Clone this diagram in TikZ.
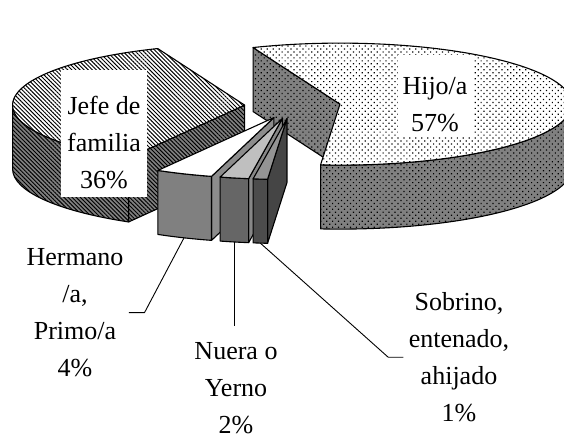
\documentclass[tikz,border=0pt]{standalone}
\usepackage{fontspec}
\setmainfont{Liberation Serif}
\usetikzlibrary{patterns.meta}
\definecolor{sidegray}{HTML}{808080}
\tikzset{
  hatch/.style={pattern={Lines[angle=-45,distance=2.9pt,line width=0.95pt]},pattern color=black},
  speckle/.style={pattern={Dots[angle=45,distance=4.2pt,radius=0.85pt]},pattern color=black},
  jefetop/.style={draw,preaction={fill=white},hatch},
  jefeside/.style={draw,preaction={fill=sidegray},hatch},
  hijotop/.style={draw,preaction={fill=white},speckle},
  hijoside/.style={draw,preaction={fill=sidegray},speckle},
  lbl/.style={align=center,inner sep=5pt},
  lblbox/.style={fill=white,inner sep=0pt},
  leader/.style={line width=0.9pt}
}
\begin{document}
\begin{tikzpicture}[x=1pt,y=1pt,line width=1.1pt,line join=round,font=\fontsize{26}{36.8}\selectfont]
\useasboundingbox (0,0) rectangle (564,441);
\clip (0,0) rectangle (564,441);
% Jefe de familia
\begin{scope}[shift={(292.5,335)},shift={(176:48 and 12.6)}]
\draw[jefeside] (0,0) -- (240:232 and 61) -- ++(0,-64) -- (0,-64) -- cycle;
\draw[jefeside] (180:232 and 61) arc[start angle=180,end angle=240,x radius=232,y radius=61]
  -- ++(0,-64) arc[start angle=240,end angle=180,x radius=232,y radius=61] -- cycle;
\draw[jefetop] (0,0) -- (112:232 and 61) arc[start angle=112,end angle=240,x radius=232,y radius=61] -- cycle;
\end{scope}
% Hijo/a
\begin{scope}[shift={(292.5,335)},shift={(368.6:48 and 12.6)}]
\draw[hijoside] (0,0) -- (112:232 and 61) -- ++(0,-64) -- (0,-64) -- cycle;
\draw[hijoside] (265.2:232 and 61) arc[start angle=265.2,end angle=360,x radius=232,y radius=61]
  -- ++(0,-64) arc[start angle=360,end angle=265.2,x radius=232,y radius=61] -- cycle;
\draw[hijotop] (0,0) -- (265.2:232 and 61) arc[start angle=265.2,end angle=472,x radius=232,y radius=61] -- cycle;
\end{scope}
% small slices
\foreach \s/\e/\n/\cf/\ct/\cc in {240/254.4/hermano/black!50/white/black!45,
  254.4/261.6/nuera/black!60/black!25/black!47,
  261.6/265.2/sobrino/black!70/black!42/black!73}{
\pgfmathsetmacro{\m}{(\s+\e)/2}
\begin{scope}[shift={(292.5,335)},shift={(\m:48 and 12.6)}]
\draw[fill=\cc] (0,0) -- (\e:232 and 61) -- ++(0,-64) -- (0,-64) -- cycle;
\draw[fill=\cf] (\s:232 and 61) arc[start angle=\s,end angle=\e,x radius=232,y radius=61]
  -- ++(0,-64) arc[start angle=\e,end angle=\s,x radius=232,y radius=61] -- cycle;
\draw[fill=\ct] (0,0) -- (\s:232 and 61) arc[start angle=\s,end angle=\e,x radius=232,y radius=61] -- cycle;
\path (\m:232 and 61) ++(0,-64) coordinate (\n-tip);
\end{scope}
}
% labels
\node[lblbox,minimum width=86pt,minimum height=127pt] (jefe-box) at (104,307.5) {};
\node[lbl] (jefe-lbl) at (104,298.3) {Jefe de\\familia\\36\%};
\node[lblbox,minimum width=75pt,minimum height=82pt] (hijo-box) at (435.5,345) {};
\node[lbl] (hijo-lbl) at (435,336.6) {Hijo/a\\57\%};
\node[lbl] (hermano-lbl) at (75,128.4) {Hermano\\/a,\\Primo/a\\4\%};
\node[lbl] (nuera-lbl) at (236,52.8) {Nuera o\\Yerno\\2\%};
\node[lbl] (sobrino-lbl) at (459,83.7) {Sobrino,\\entenado,\\ahijado\\1\%};
\coordinate (hermano-bend) at ([xshift=15.6pt]hermano-lbl.east);
\coordinate (nuera-end) at ([yshift=11pt]nuera-lbl.north);
\coordinate (sobrino-bend) at ([xshift=-15pt]sobrino-lbl.west);
\draw[leader] (hermano-tip) -- (hermano-bend) -- (hermano-lbl.east);
\draw[leader] (nuera-tip) -- (nuera-tip |- nuera-end);
\draw[leader] (sobrino-tip) -- (sobrino-bend) -- (sobrino-lbl.west);
\end{tikzpicture}
\end{document}
